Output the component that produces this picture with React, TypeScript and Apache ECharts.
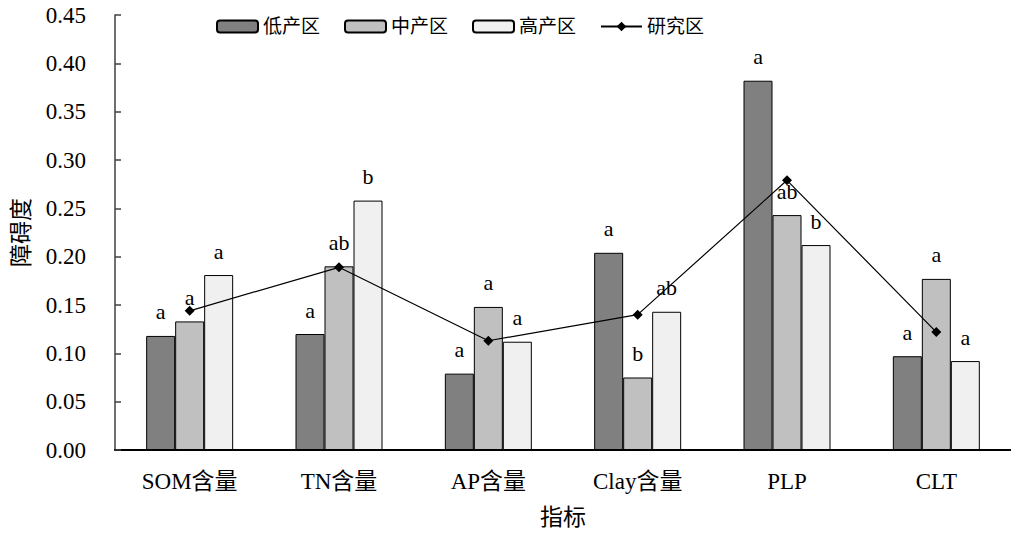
import React, { useEffect, useRef } from "react";
import * as echarts from "echarts";

const categories = ["SOM含量", "TN含量", "AP含量", "Clay含量", "PLP", "CLT"];
const lowValues = [0.118, 0.120, 0.079, 0.204, 0.382, 0.097];
const midValues = [0.133, 0.190, 0.148, 0.075, 0.243, 0.177];
const highValues = [0.181, 0.258, 0.112, 0.143, 0.212, 0.092];
const studyValues = [0.144, 0.189, 0.113, 0.140, 0.279, 0.122];
const lowLetters = ["a", "a", "a", "a", "a", "a"];
const midLetters = ["a", "ab", "a", "b", "ab", "a"];
const highLetters = ["a", "b", "a", "ab", "b", "a"];
const yTicks = { min: 0, max: 0.45, interval: 0.05 };

const FONT = '"Times New Roman", "Liberation Serif", "Noto Sans CJK SC", serif';

export default function App() {
  const ref = useRef<HTMLDivElement>(null);
  useEffect(() => {
    if (!ref.current) return;
    const chart = echarts.init(ref.current, null, { renderer: "svg" });
    const barSeries = (name: string, data: number[], letters: string[], color: string) => ({
      name,
      type: "bar",
      data: data.map((v, i) => ({ value: v, label: { formatter: letters[i] } })),
      barWidth: 29,
      barGap: "0%",
      itemStyle: { color, borderColor: "#000", borderWidth: 1 },
      label: {
        show: true,
        position: "top",
        distance: 13,
        color: "#000",
        fontSize: 22,
        fontFamily: FONT,
      },
    });
    chart.setOption({
      animation: false,
      textStyle: { fontFamily: FONT, color: "#000" },
      grid: { left: 115, right: -5, top: 15, bottom: 82 },
      legend: {
        left: 216,
        top: 17,
        padding: 0,
        itemWidth: 41,
        itemHeight: 12,
        itemGap: 24,
        textStyle: { fontSize: 19, fontFamily: FONT, color: "#000" },
        data: ["低产区", "中产区", "高产区", "研究区"],
      },
      xAxis: {
        type: "category",
        data: categories,
        name: "指标",
        nameLocation: "middle",
        nameGap: 56,
        nameTextStyle: { fontSize: 23, fontFamily: FONT, color: "#000" },
        axisLine: { lineStyle: { color: "#000", width: 2 } },
        axisTick: { inside: true, length: 7, lineStyle: { color: "#000", width: 1.5 } },
        axisLabel: { fontSize: 23, fontFamily: FONT, color: "#000", margin: 20 },
      },
      yAxis: {
        type: "value",
        min: yTicks.min,
        max: yTicks.max,
        interval: yTicks.interval,
        name: "障碍度",
        nameLocation: "middle",
        nameRotate: 90,
        nameGap: 82,
        nameTextStyle: { fontSize: 23, fontFamily: FONT, color: "#000" },
        axisLine: { show: true, lineStyle: { color: "#404040", width: 1.5 } },
        axisTick: { show: true, inside: true, length: 6, lineStyle: { color: "#404040", width: 1.5 } },
        splitLine: { show: false },
        axisLabel: {
          fontSize: 23,
          fontFamily: FONT,
          color: "#000",
          margin: 29,
          formatter: (v: number) => v.toFixed(2),
        },
      },
      series: [
        barSeries("低产区", lowValues, lowLetters, "#808080"),
        barSeries("中产区", midValues, midLetters, "#c0c0c0"),
        barSeries("高产区", highValues, highLetters, "#f0f0f0"),
        {
          name: "研究区",
          type: "line",
          data: studyValues,
          symbol: "diamond",
          symbolSize: 10,
          itemStyle: { color: "#000" },
          lineStyle: { color: "#000", width: 1.2 },
          z: 5,
        },
      ],
    });
    return () => chart.dispose();
  }, []);
  return (
    <div
      ref={ref}
      style={{ position: "fixed", left: 0, top: 0, width: 1011, height: 534, background: "#fff" }}
    />
  );
}
